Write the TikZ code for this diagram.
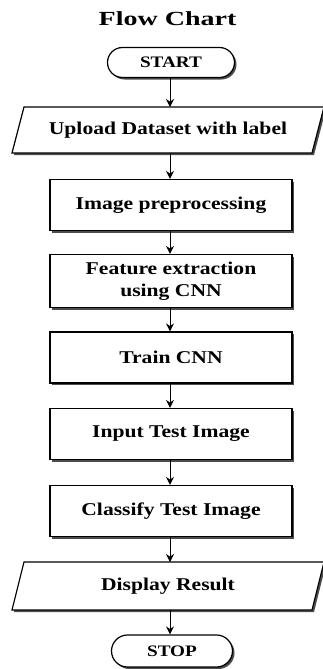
\documentclass[tikz,border=0pt]{standalone}
\usepackage{fontspec}
\setmainfont[FakeStretch=1.2]{Liberation Serif}
\newfontfamily\titlefont[FakeStretch=1.4]{Liberation Serif}
\usetikzlibrary{shapes.misc,shadows,arrows.meta}
\pgfdeclarelayer{bg}
\pgfsetlayers{bg,main}
\tikzset{
  shade/.style={drop shadow={shadow xshift=2pt, shadow yshift=-2pt, fill=black!70, opacity=1}},
  bodyfont/.style={font=\bfseries\fontsize{18}{22}\selectfont},
  procbox/.style={draw=black, line width=1.2pt, fill=white, shade, bodyfont, align=center,
    rectangle, minimum width=242pt, minimum height=51pt, inner sep=2pt},
  termbox/.style={draw=black, line width=1.2pt, fill=white, shade, rounded rectangle,
    font=\bfseries\fontsize{16}{19}\selectfont, minimum height=30pt, inner sep=2pt},
  iotext/.style={rectangle, bodyfont, minimum width=300pt, minimum height=46pt, outer sep=0pt, inner sep=0pt},
  iobox/.style={draw=black, line width=1.2pt, fill=white, shade},
  arr/.style={-{Stealth[length=8pt,width=8pt]}, line width=1pt, black}
}
\begin{document}
\begin{tikzpicture}[x=1pt,y=-1pt]
\useasboundingbox (0,0) rectangle (322,669);
\node[font=\titlefont\bfseries\fontsize{20}{24}\selectfont] (title) at (167.5,19) {Flow Chart};
\node[termbox, minimum width=131pt] (start) at (171,62.5) {START};
\node[iotext] (upload) at (168,130) {Upload Dataset with label};
\node[procbox] (prep) at (171,205) {Image preprocessing};
\node[procbox, minimum height=53pt] (feat) at (171,281) {Feature extraction\\using CNN};
\node[procbox] (train) at (171,357.5) {Train CNN};
\node[procbox] (input) at (171,434) {Input Test Image};
\node[procbox] (classify) at (171,511) {Classify Test Image};
\node[iotext, minimum height=48pt] (display) at (168,586) {Display Result};
\node[termbox, minimum width=125pt, minimum height=32pt] (stop) at (172,651) {STOP};
\begin{pgfonlayer}{bg}
\path[iobox] ([xshift=6pt]upload.north west) -- ([xshift=6pt]upload.north east)
  -- ([xshift=-6pt]upload.south east) -- ([xshift=-6pt]upload.south west) -- cycle;
\path[iobox] ([xshift=6pt]display.north west) -- ([xshift=6pt]display.north east)
  -- ([xshift=-6pt]display.south east) -- ([xshift=-6pt]display.south west) -- cycle;
\end{pgfonlayer}
\draw[arr] (start.south -| 170,0) -- (upload.north -| 170,0);
\draw[arr] (upload.south -| 170,0) -- (prep.north -| 170,0);
\draw[arr] (prep.south -| 170,0) -- (feat.north -| 170,0);
\draw[arr] (feat.south -| 170,0) -- (train.north -| 170,0);
\draw[arr] (train.south -| 170,0) -- (input.north -| 170,0);
\draw[arr] (input.south -| 170,0) -- (classify.north -| 170,0);
\draw[arr] (classify.south -| 170,0) -- (display.north -| 170,0);
\draw[arr] (display.south -| 170,0) -- (stop.north -| 170,0);
\end{tikzpicture}
\end{document}
